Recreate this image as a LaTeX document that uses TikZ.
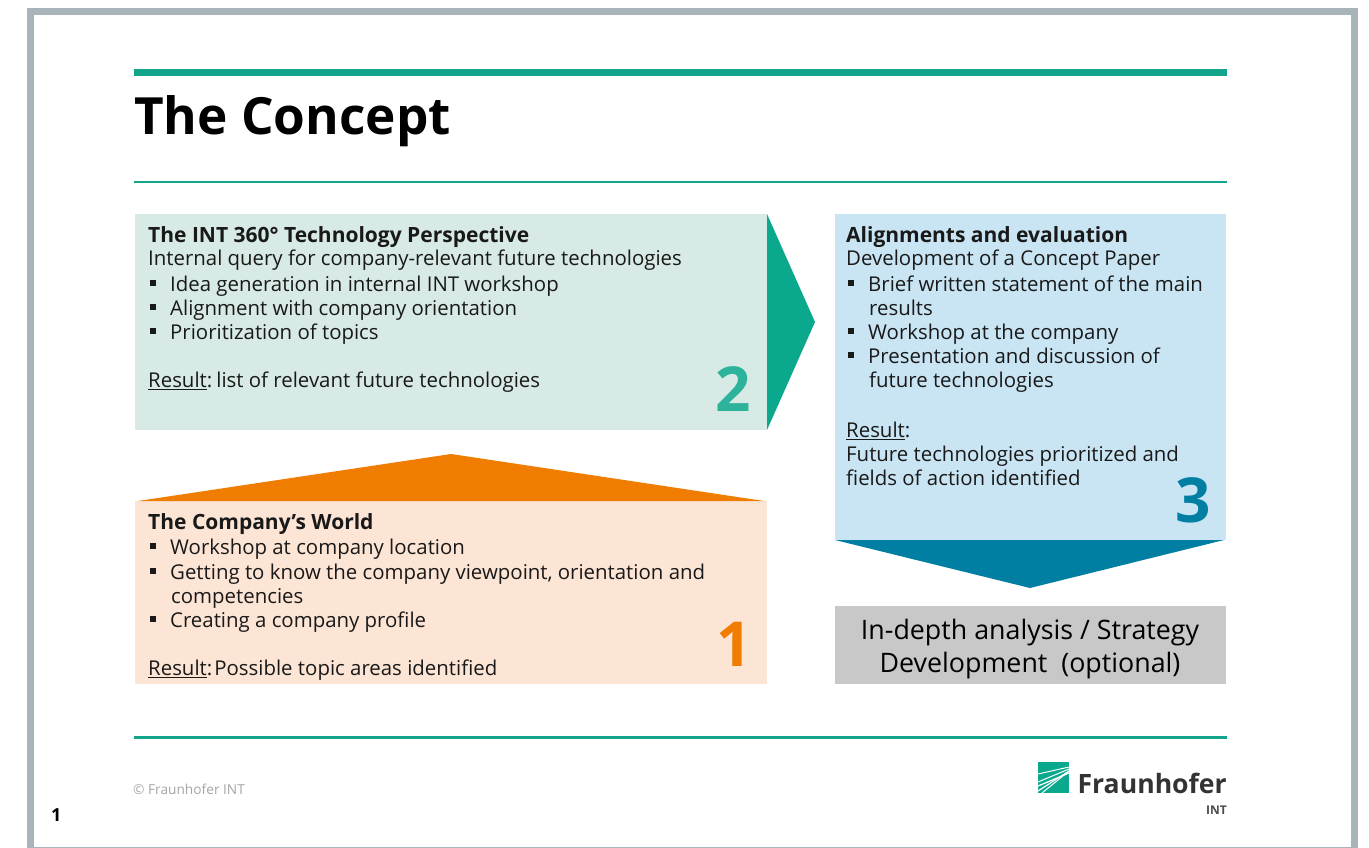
\documentclass[tikz,border=0pt]{standalone}
\usepackage{fontspec}
\setmainfont{Open Sans}
\definecolor{teal1}{HTML}{0AA88C}
\definecolor{ruleg}{HTML}{12A58B}
\definecolor{frameg}{HTML}{A9B4BA}
\definecolor{box2}{HTML}{D7EAE6}
\definecolor{box3}{HTML}{C9E5F3}
\definecolor{box1}{HTML}{FCE5D5}
\definecolor{org}{HTML}{F07D00}
\definecolor{blu}{HTML}{007FA3}
\definecolor{gry}{HTML}{C8C8C8}
\definecolor{num2}{HTML}{2DB39B}
\tikzset{x=1pt,y=-1pt,
 txt/.style={anchor=base west,font=\fontsize{20.4pt}{24pt}\selectfont,inner sep=0pt,text=black!90,yshift=-1.5pt},
 bul/.style={fill=black!90,draw=none,minimum size=0pt},
 big/.style={anchor=base,font=\bfseries\fontsize{62pt}{62pt}\selectfont,inner sep=0pt},
 rulebar/.style={fill=ruleg,draw=none}}
\newcommand{\hd}[1]{{\bfseries\fontsize{21pt}{24pt}\selectfont #1}}
\newcommand{\lin}[3]{\node[txt] (#1) at (#2) {#3};}
\newcommand{\bl}[3]{\fill[bul] (150,#3-10) rectangle (156,#3-4);\node[txt] (#1) at (170,#3) {#2};}
\newcommand{\br}[3]{\fill[bul] (848,#3-10) rectangle (854,#3-4);\node[txt] (#1) at (868,#3) {#2};}
\begin{document}
\begin{tikzpicture}
\useasboundingbox (0,0) rectangle (1369,848);
\fill[white] (0,0) rectangle (1369,848);
\fill[frameg] (27,8) rectangle (1358,848);
\fill[white] (34,15) rectangle (1351,847);
\fill[rulebar] (134,69) rectangle (1227,76);
\fill[rulebar] (134,181) rectangle (1227,183);
\fill[rulebar] (134,736) rectangle (1227,739);
\node[anchor=base west,inner sep=0pt,font=\bfseries\fontsize{51.3pt}{52pt}\selectfont] (title) at (134,135) {The Concept};
\fill[box2] (135,214) rectangle (767,430);
\fill[teal1] (767,214) -- (815,322) -- (767,430) -- cycle;
\fill[box3] (835,214) rectangle (1226,540);
\fill[blu] (835,540) -- (1224,540) -- (1030,588) -- cycle;
\fill[box1] (135,501) rectangle (767,684);
\fill[org] (138,501) -- (451,454) -- (764,501) -- cycle;
\fill[gry] (835,606) rectangle (1226,684);
\lin{a1}{148,241}{\hd{The INT 360° Technology Perspective}}
\lin{a2}{148,264}{Internal query for company-relevant future technologies}
\bl{a3}{Idea generation in internal INT workshop}{290}
\bl{a4}{Alignment with company orientation}{314}
\bl{a5}{Prioritization of topics}{338}
\lin{a6}{148,386}{\underline{Result}:\hspace{-3pt} list of relevant future technologies}
\node[big,text=num2] (n2) at (733,411) {2};
\lin{c1}{846,241}{\hd{Alignments and evaluation}}
\lin{c2}{846,264}{Development of a Concept Paper}
\br{c3}{Brief written statement of the main}{290}
\lin{c4}{869,314}{results}
\br{c5}{Workshop at the company}{338}
\br{c6}{Presentation and discussion of}{362}
\lin{c7}{869,386}{future technologies}
\lin{c8}{846,436}{\underline{Result}:}
\lin{c9}{846,460}{Future technologies prioritized and}
\lin{c10}{846,484}{fields of action identified}
\node[big,text=blu] (n3) at (1193,522) {3};
\lin{b1}{148,528}{\hd{The Company’s World}}
\bl{b2}{Workshop at company location}{553}
\bl{b3}{Getting to know the company viewpoint, orientation and}{578}
\lin{b4}{171,602}{competencies}
\bl{b5}{Creating a company profile}{626}
\lin{b6}{148,674}{\underline{Result}:\hspace{-5pt} Possible topic areas identified}
\node[big,text=org] (n1) at (734,666) {1};
\node[anchor=base,inner sep=0pt,font=\fontsize{26.8pt}{26pt}\selectfont] (d1) at (1030,639) {In-depth analysis / Strategy};
\node[anchor=base,inner sep=0pt,font=\fontsize{26.8pt}{26pt}\selectfont] (d2) at (1030,672) {Development~ (optional)};
\node[anchor=base west,inner sep=0pt,font=\fontsize{13.7pt}{14pt}\selectfont,text=black!35] (copy) at (133,794) {© Fraunhofer INT};
\node[anchor=base west,inner sep=0pt,font=\bfseries\fontsize{18pt}{20pt}\selectfont] (p) at (51,821) {1};
\node[anchor=base east,inner sep=0pt,font=\bfseries\fontsize{26.6pt}{28pt}\selectfont,text=black!80] (f) at (1227,793) {Fraunhofer};
\node[anchor=base east,inner sep=0pt,font=\bfseries\fontsize{12pt}{14pt}\selectfont,text=black!70] (i) at (1227,814) {INT};
\fill[teal1] (1038,762) rectangle (1069,793);
\begin{scope}
\clip (1038,762) rectangle (1069,793);
\draw[white,line width=1pt] (1038,782) -- (1069,769);
\draw[white,line width=1.2pt] (1038,786) -- (1069,773);
\draw[white,line width=1.2pt] (1038,791) -- (1069,771);
\draw[white,line width=1pt] (1042,793) -- (1069,771);
\draw[white,line width=1pt] (1038,774) -- (1069,767);
\end{scope}
\end{tikzpicture}
\end{document}
